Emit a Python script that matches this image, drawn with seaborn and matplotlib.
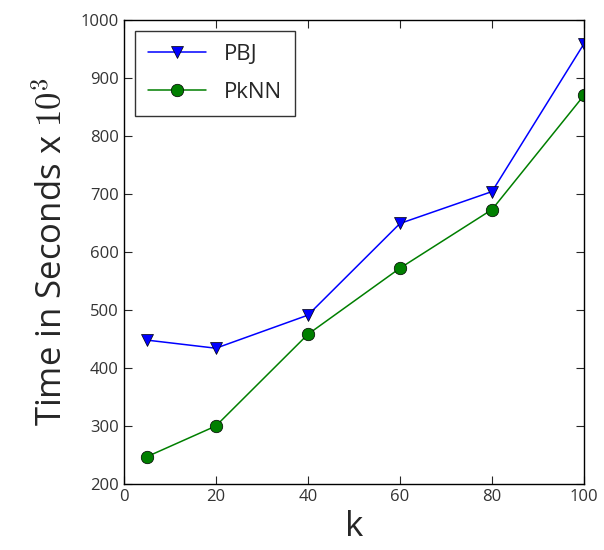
import matplotlib

matplotlib.use("Agg")
import matplotlib.pyplot as plt
import pandas as pd
import seaborn as sns

# values
k_values = [5, 20, 40, 60, 80, 100]
pbj_times = [448, 434, 491, 649, 704, 959]
pknn_times = [247, 300, 458, 572, 673, 870]

sns.set_style(
    "ticks",
    {
        "xtick.direction": "in",
        "ytick.direction": "in",
        "axes.edgecolor": "black",
    },
)
plt.rcParams["font.family"] = ["Open Sans", "DejaVu Sans"]
plt.rcParams["mathtext.fontset"] = "cm"

df = pd.DataFrame(
    {
        "k": k_values * 2,
        "time": pbj_times + pknn_times,
        "method": ["PBJ"] * len(k_values) + ["PkNN"] * len(k_values),
    }
)

fig = plt.figure(figsize=(6.04, 5.5), dpi=100)
ax = fig.add_axes([0.205, 0.12, 0.762, 0.844])

sns.lineplot(
    data=df,
    x="k",
    y="time",
    hue="method",
    style="method",
    palette={"PBJ": "#0000ff", "PkNN": "#007f00"},
    markers={"PBJ": "v", "PkNN": "o"},
    dashes=False,
    markersize=9,
    markeredgecolor="black",
    markeredgewidth=0.5,
    linewidth=1.1,
    ax=ax,
)

ax.set_xlim(0, 100)
ax.set_ylim(200, 1000)
ax.set_xticks([0, 20, 40, 60, 80, 100])
ax.set_yticks(range(200, 1001, 100))
ax.tick_params(axis="both", which="both", top=True, right=True, length=6,
               labelsize=12, labelcolor="#333333")
for s in ax.spines.values():
    s.set_linewidth(1.0)

ax.set_xlabel("k", fontsize=25, labelpad=4)
ax.set_ylabel("Time in Seconds x $10^3$", fontsize=25, labelpad=8)

leg = ax.legend(loc="upper left", fontsize=16, frameon=True, fancybox=False,
                edgecolor="black", borderpad=0.6, handlelength=2.6,
                labelspacing=0.75)
leg.get_frame().set_linewidth(1.0)

plt.savefig("out.png", dpi=100)
